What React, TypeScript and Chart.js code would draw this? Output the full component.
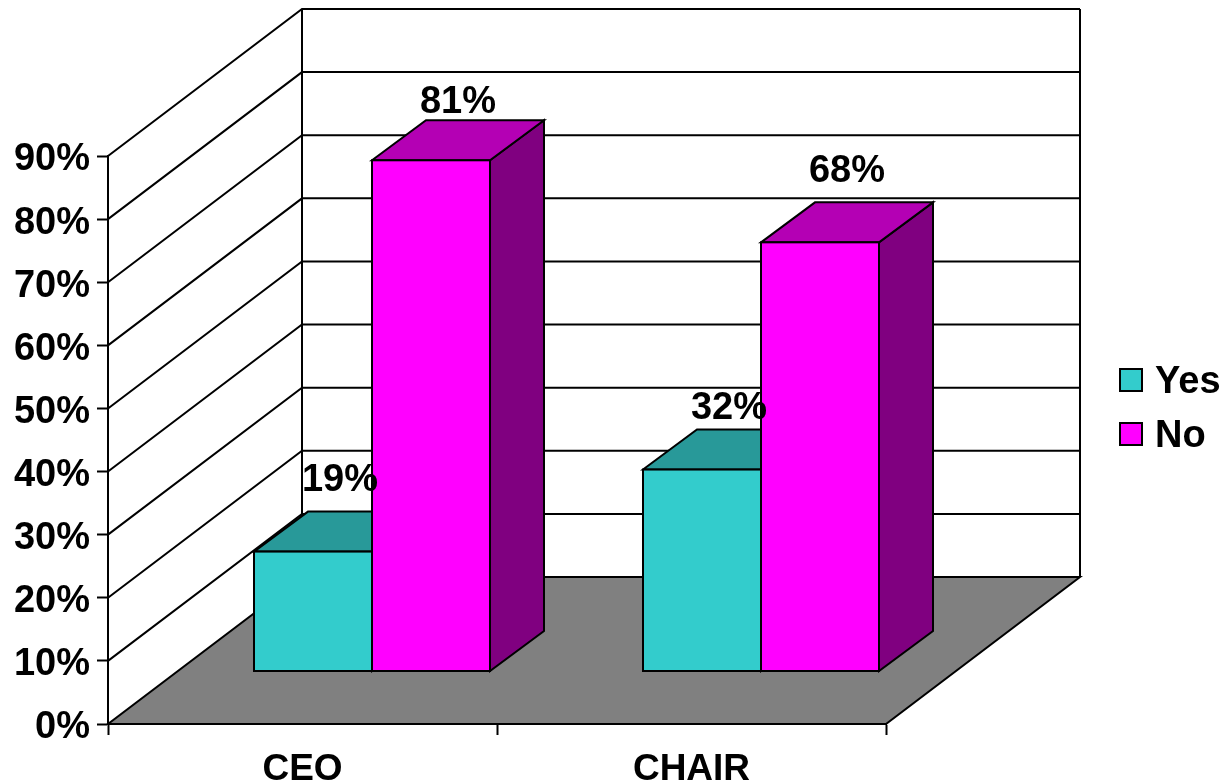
import React, { useEffect, useRef } from "react";
import { Chart, registerables } from "chart.js";

Chart.register(...registerables);

const categories = ["CEO", "CHAIR"];
const seriesNames = ["Yes", "No"];
const yesValues = [19, 32];
const noValues = [81, 68];
const labelLift = [
  [31, 21],
  [18, 31],
];

const FONT = '"Liberation Sans", Arial, sans-serif';
const FONT_SIZE = 38;
const INK = "#000000";
const FRONT = ["#33CCCC", "#FF00FF"];
const TOP = ["#289999", "#B400B4"];
const SIDE = ["#269090", "#800080"];
const FLOOR = "#808080";

// Projection of the depth axis: whole floor, plot-front inset, and bar thickness.
const WALL = { dx: 194, dy: -147 };
const BAR_INSET = { dx: 69.5, dy: -52.5 };
const BAR_DEPTH = { dx: 54, dy: -40 };

function polygon(ctx: CanvasRenderingContext2D, pts: number[][], fill?: string) {
  ctx.beginPath();
  pts.forEach(([x, y], i) => (i ? ctx.lineTo(x, y) : ctx.moveTo(x, y)));
  ctx.closePath();
  if (fill) {
    ctx.fillStyle = fill;
    ctx.fill();
  }
  ctx.stroke();
}

function barBox(el: any) {
  return { l: el.x - el.width / 2, r: el.x + el.width / 2, t: el.y, b: el.base };
}

// Walls, gridlines and floor sit behind the axes.
const roomPlugin = {
  id: "room",
  afterLayout(chart: any) {
    // Seat the percent labels on their tick marks rather than above them.
    chart.scales.y.getLabelItems().forEach((item: any) => {
      item.textOffset += 4;
    });
  },
  beforeDraw(chart: any) {
    const { ctx, chartArea: a, scales } = chart;
    const y = scales.y;
    ctx.save();
    ctx.fillStyle = "#FFFFFF";
    ctx.fillRect(0, 0, chart.width, chart.height);
    ctx.strokeStyle = INK;
    ctx.lineWidth = 2;
    ctx.lineJoin = "miter";
    polygon(ctx, [
      [a.left, a.bottom],
      [a.right, a.bottom],
      [a.right + WALL.dx, a.bottom + WALL.dy],
      [a.left + WALL.dx, a.bottom + WALL.dy],
    ], FLOOR);
    y.ticks.forEach((t: any) => {
      if (t.value === 0) return;
      const py = y.getPixelForValue(t.value);
      ctx.beginPath();
      ctx.moveTo(a.left, py);
      ctx.lineTo(a.left + WALL.dx, py + WALL.dy);
      ctx.lineTo(a.right + WALL.dx, py + WALL.dy);
      ctx.stroke();
    });
    ctx.beginPath();
    ctx.moveTo(a.left + WALL.dx, a.top + WALL.dy);
    ctx.lineTo(a.left + WALL.dx, a.bottom + WALL.dy);
    ctx.moveTo(a.right + WALL.dx, a.top + WALL.dy);
    ctx.lineTo(a.right + WALL.dx, a.bottom + WALL.dy);
    ctx.stroke();
    ctx.restore();
  },
};

// Bars get their depth faces first; the library then fills the front faces in
// a canvas shifted back onto the bar plane, and the outlines go on last.
const boxPlugin = {
  id: "box",
  beforeDatasetsDraw(chart: any) {
    const { ctx } = chart;
    ctx.save();
    ctx.translate(BAR_INSET.dx, BAR_INSET.dy);
    ctx.strokeStyle = INK;
    ctx.lineWidth = 2;
    ctx.lineJoin = "miter";
    chart.data.datasets.forEach((_: any, d: number) => {
      chart.getDatasetMeta(d).data.forEach((el: any) => {
        const { l, r, t, b } = barBox(el);
        const { dx, dy } = BAR_DEPTH;
        polygon(ctx, [[r, t], [r + dx, t + dy], [r + dx, b + dy], [r, b]], SIDE[d]);
        polygon(ctx, [[l, t], [l + dx, t + dy], [r + dx, t + dy], [r, t]], TOP[d]);
      });
    });
  },
  afterDatasetsDraw(chart: any) {
    const { ctx } = chart;
    chart.data.datasets.forEach((_: any, d: number) => {
      chart.getDatasetMeta(d).data.forEach((el: any) => {
        const { l, r, t, b } = barBox(el);
        ctx.strokeRect(l, t, r - l, b - t);
      });
    });
    ctx.restore();

    ctx.save();
    ctx.fillStyle = INK;
    ctx.font = `bold ${FONT_SIZE}px ${FONT}`;
    ctx.textAlign = "center";
    ctx.textBaseline = "middle";
    chart.data.datasets.forEach((ds: any, d: number) => {
      chart.getDatasetMeta(d).data.forEach((el: any, i: number) => {
        const x = el.x + BAR_INSET.dx + BAR_DEPTH.dx / 2;
        const y = el.y + BAR_INSET.dy + BAR_DEPTH.dy - labelLift[d][i];
        ctx.fillText(`${ds.data[i]}%`, x, y);
      });
    });

    // Series key, to the right of the room.
    ctx.textAlign = "left";
    ctx.strokeStyle = INK;
    ctx.lineWidth = 2;
    chart.data.datasets.forEach((ds: any, d: number) => {
      const cy = 380 + d * 54;
      ctx.fillStyle = FRONT[d];
      ctx.fillRect(1120, cy - 11, 22, 22);
      ctx.strokeRect(1120, cy - 11, 22, 22);
      ctx.fillStyle = INK;
      ctx.fillText(ds.label, 1155, cy + 3);
    });
    ctx.restore();
  },
};

export default function App() {
  const ref = useRef<HTMLCanvasElement>(null);

  useEffect(() => {
    document.body.style.margin = "0";
    const tickFont = { family: FONT, size: FONT_SIZE, weight: "bold" as const };
    const chart = new Chart(ref.current!, {
      type: "bar",
      data: {
        labels: categories,
        datasets: [
          { label: seriesNames[0], data: yesValues, backgroundColor: FRONT[0], borderWidth: 0, clip: false },
          { label: seriesNames[1], data: noValues, backgroundColor: FRONT[1], borderWidth: 0, clip: false },
        ],
      },
      options: {
        responsive: false,
        animation: false,
        events: [],
        layout: { padding: { top: 156, right: 338, left: 0, bottom: 0 } },
        datasets: { bar: { categoryPercentage: 0.6067, barPercentage: 1 } },
        plugins: { legend: { display: false }, tooltip: { enabled: false } },
        scales: {
          x: {
            afterFit: (s: any) => { s.height = 58; },
            border: { color: INK, width: 2 },
            grid: { drawOnChartArea: false, tickLength: 11, tickColor: INK, tickWidth: 2 },
            ticks: {
              color: INK,
              font: { ...tickFont, size: 37 },
              padding: 13,
              autoSkip: false,
              maxRotation: 0,
            },
          },
          y: {
            min: 0,
            max: 90,
            afterFit: (s: any) => { s.width = 108; },
            border: { color: INK, width: 2 },
            grid: { drawOnChartArea: false, tickLength: 11, tickColor: INK, tickWidth: 2 },
            ticks: {
              stepSize: 10,
              color: INK,
              font: tickFont,
              padding: 7,
              callback: (v: any) => `${v}%`,
            },
          },
        },
      },
      plugins: [roomPlugin, boxPlugin],
    } as any);
    return () => chart.destroy();
  }, []);

  return <canvas ref={ref} width={1224} height={782} style={{ display: "block" }} />;
}
